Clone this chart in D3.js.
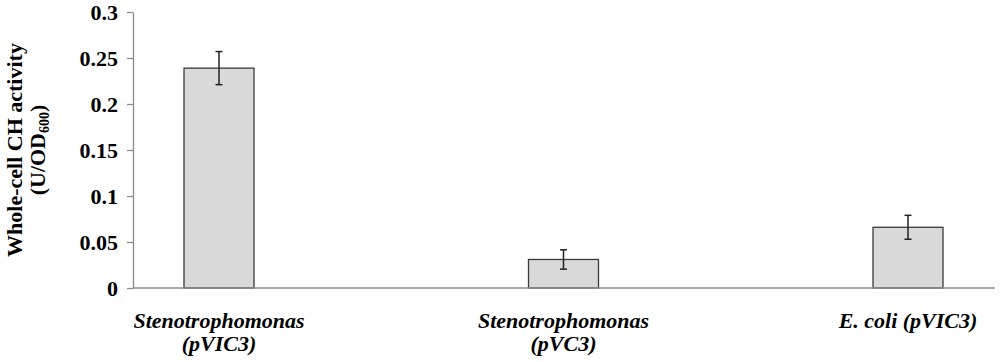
<!DOCTYPE html>
<html><head><meta charset="utf-8">
<script src="https://cdn.jsdelivr.net/npm/d3@7"></script>
<style>body{margin:0;background:#fff}svg{display:block}</style>
</head><body>
<svg id="c" width="1000" height="362"></svg>
<script>
const categories = [["Stenotrophomonas", "(pVIC3)"], ["Stenotrophomonas", "(pVC3)"], ["E. coli (pVIC3)"]];
const values = [0.239, 0.031, 0.066];
const errors = [0.018, 0.0105, 0.013];
const yTicks = [0, 0.05, 0.1, 0.15, 0.2, 0.25, 0.3];
const yTickLabels = ["0", "0.05", "0.1", "0.15", "0.2", "0.25", "0.3"];

const svg = d3.select("#c");
const font = "'Liberation Serif','Times New Roman',serif";
const ids = categories.map((c, i) => i);
const x = d3.scalePoint().domain(ids).range([219, 908]);
const y = d3.scaleLinear().domain([0, 0.3]).range([288, 12]);
const barW = 70;

// bars
svg.selectAll("rect.bar").data(values).join("rect")
  .attr("x", (d, i) => x(i) - barW / 2)
  .attr("y", d => y(d))
  .attr("width", barW)
  .attr("height", d => y(0) - y(d))
  .attr("fill", "#d9d9d9")
  .attr("stroke", "#3a3a3a")
  .attr("stroke-width", 1.3);

// axes
const yAxis = d3.axisLeft(y).tickValues(yTicks).tickFormat((d, i) => yTickLabels[i]).tickSize(6).tickSizeOuter(0).tickPadding(9);
const gy = svg.append("g").attr("transform", `translate(133,0)`).call(yAxis);
gy.select(".domain").attr("stroke", "#8c8c8c").attr("stroke-width", 1.3);
gy.selectAll(".tick line").attr("stroke", "#8c8c8c").attr("stroke-width", 1.3);
gy.selectAll(".tick text").attr("font-family", font).attr("font-weight", "bold")
  .attr("font-size", 22).attr("fill", "#000");

svg.append("line").attr("x1", 133).attr("x2", 995).attr("y1", y(0)).attr("y2", y(0))
  .attr("stroke", "#8c8c8c").attr("stroke-width", 1.5);

// error bars
const eg = svg.append("g").attr("stroke", "#222").attr("stroke-width", 1.5);
values.forEach((v, i) => {
  const cx = x(i);
  eg.append("line").attr("x1", cx).attr("x2", cx).attr("y1", y(v + errors[i])).attr("y2", y(v - errors[i]));
  eg.append("line").attr("x1", cx - 3.5).attr("x2", cx + 3.5).attr("y1", y(v + errors[i])).attr("y2", y(v + errors[i]));
  eg.append("line").attr("x1", cx - 3.5).attr("x2", cx + 3.5).attr("y1", y(v - errors[i])).attr("y2", y(v - errors[i]));
});

// category labels
categories.forEach((lines, i) => {
  const t = svg.append("text").attr("text-anchor", "middle")
    .attr("font-family", font).attr("font-weight", "bold").attr("font-style", "italic")
    .attr("font-size", 22).attr("fill", "#000");
  lines.forEach((l, j) => {
    t.append("tspan").attr("x", x(i)).attr("y", 328 + j * 23).text(l);
  });
});

// y title
const tt = svg.append("text").attr("transform", "translate(0,150) rotate(-90)")
  .attr("text-anchor", "middle").attr("font-family", font).attr("font-weight", "bold")
  .attr("font-size", 22).attr("fill", "#000");
tt.append("tspan").attr("x", 0).attr("y", 22).text("Whole-cell CH activity");
const t2 = tt.append("tspan").attr("x", 0).attr("y", 45);
t2.text("(U/OD");
tt.append("tspan").attr("font-size", 14).attr("dy", 4).text("600");
tt.append("tspan").attr("dy", -4).text(")");
</script>
</body></html>
